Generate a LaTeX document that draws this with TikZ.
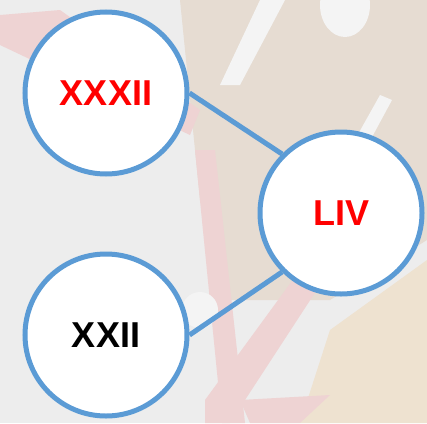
\documentclass[tikz,border=0pt]{standalone}
\usepackage{fontspec}
\setmainfont{Liberation Sans}
\definecolor{ringblue}{HTML}{5B9BD5}
\definecolor{bggray}{HTML}{EDEDED}
\definecolor{bgtan}{HTML}{E6DCD2}
\definecolor{bgpink}{HTML}{EED3D3}
\definecolor{bgsand}{HTML}{EEE2D0}
\begin{document}
\begin{tikzpicture}[x=1pt,y=-1pt,
  numcircle/.style={circle, draw=ringblue, line width=5pt, fill=white,
    minimum size=162pt, inner sep=0pt,
    font=\fontsize{36}{36}\selectfont\bfseries},
  link/.style={draw=ringblue, line width=5pt}]
  \useasboundingbox (0,0) rectangle (427,423);
  % faded background
  \fill[bggray] (0,0) rectangle (427,423);
  \fill[bgtan] (180,0) -- (427,0) -- (427,240) -- (330,300) -- (230,300) -- (200,200) -- cycle;
  \fill[bgsand] (330,330) -- (427,260) -- (427,423) -- (300,423) -- cycle;
  \fill[bgpink] (0,15) -- (60,10) -- (200,110) -- (190,135) -- (0,45) -- cycle;
  \fill[bgpink] (195,150) -- (215,150) -- (245,423) -- (222,423) -- cycle;
  \fill[bgpink] (205,400) -- (300,270) -- (320,285) -- (230,423) -- (205,423) -- cycle;
  \fill[bgpink] (240,400) -- (330,395) -- (300,423) -- (250,423) -- cycle;
  \fill[bggray!60!white] (260,0) -- (285,0) -- (240,85) -- (220,85) -- cycle;
  \fill[bggray!60!white] (345,5) ellipse (25 and 32);
  \fill[bggray!60!white] (380,95) -- (392,100) -- (365,150) -- (352,145) -- cycle;
  \fill[bggray!60!white] (200,310) circle (18);
  % nodes
  \node[numcircle, text=red] (a) at (106,93) {XXXII};
  \node[numcircle, text=black] (b) at (106,335) {XXII};
  \node[numcircle, text=red] (c) at (341,213) {LIV};
  % connectors
  \draw[link] (a.east) -- (c.north west);
  \draw[link] (b.east) -- (c.south west);
\end{tikzpicture}
\end{document}
